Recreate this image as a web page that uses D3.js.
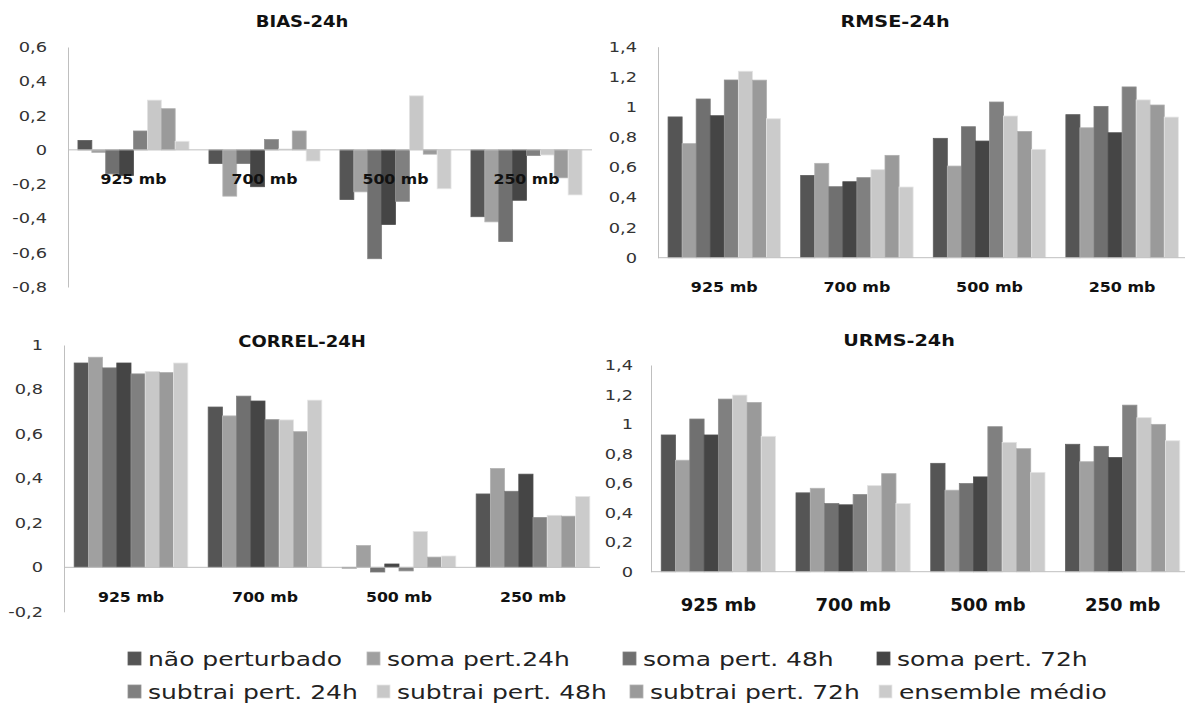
<!DOCTYPE html>
<html>
<head>
<meta charset="utf-8">
<script src="https://cdn.jsdelivr.net/npm/d3@7"></script>
<style>
  html, body { margin: 0; padding: 0; background: #fff; }
  svg { display: block; }
</style>
</head>
<body>
<svg id="chart" width="1185" height="711"></svg>
<script>
// ---------------- DATA ----------------
const categories = ["925 mb", "700 mb", "500 mb", "250 mb"];
const seriesNames = ["não perturbado", "soma pert.24h", "soma pert. 48h", "soma pert. 72h",
                     "subtrai pert. 24h", "subtrai pert. 48h", "subtrai pert. 72h", "ensemble médio"];
const seriesColors = ["#555555", "#a0a0a0", "#707070", "#454545", "#808080", "#c8c8c8", "#9a9a9a", "#cbcbcb"];

// values per category (rows) for each series (columns)
const biasValues = [
  [0.055, -0.015, -0.14, -0.15, 0.11, 0.29, 0.24, 0.05],
  [-0.08, -0.27, -0.08, -0.215, 0.06, 0.005, 0.11, -0.065],
  [-0.29, -0.245, -0.635, -0.435, -0.30, 0.315, -0.025, -0.227],
  [-0.39, -0.42, -0.535, -0.294, -0.033, -0.03, -0.163, -0.263]
];
const rmseValues = [
  [0.934, 0.757, 1.053, 0.942, 1.179, 1.237, 1.178, 0.922],
  [0.546, 0.626, 0.471, 0.504, 0.531, 0.584, 0.679, 0.469],
  [0.792, 0.608, 0.869, 0.774, 1.033, 0.94, 0.838, 0.719],
  [0.949, 0.862, 1.004, 0.829, 1.133, 1.047, 1.013, 0.933]
];
const correlValues = [
  [0.919, 0.945, 0.897, 0.919, 0.870, 0.881, 0.876, 0.919],
  [0.721, 0.681, 0.770, 0.748, 0.664, 0.663, 0.610, 0.752],
  [-0.003, 0.098, -0.021, 0.015, -0.016, 0.161, 0.046, 0.051],
  [0.330, 0.445, 0.342, 0.419, 0.224, 0.234, 0.230, 0.319]
];
const urmsValues = [
  [0.926, 0.755, 1.034, 0.926, 1.169, 1.196, 1.146, 0.917],
  [0.534, 0.565, 0.462, 0.453, 0.523, 0.583, 0.664, 0.462],
  [0.734, 0.552, 0.597, 0.642, 0.982, 0.876, 0.833, 0.673],
  [0.863, 0.745, 0.849, 0.773, 1.128, 1.043, 0.998, 0.887]
];

const biasTicks   = [-0.8, -0.6, -0.4, -0.2, 0, 0.2, 0.4, 0.6];
const rmseTicks   = [0, 0.2, 0.4, 0.6, 0.8, 1, 1.2, 1.4];
const correlTicks = [-0.2, 0, 0.2, 0.4, 0.6, 0.8, 1];
const urmsTicks   = [0, 0.2, 0.4, 0.6, 0.8, 1, 1.2, 1.4];

const titles = ["BIAS-24h", "RMSE-24h", "CORREL-24H", "URMS-24h"];

// ---------------- LAYOUT ----------------
const svg = d3.select("#chart");
const FONT = "'DejaVu Sans', Verdana, sans-serif";
const locale = d3.formatLocale({decimal: ",", thousands: ".", grouping: [3], currency: ["", ""], minus: "-"});
const fmt = locale.format(".1~f");

function stretchText(parent, x, y, str, o) {
  return parent.append("text")
    .attr("transform", `translate(${x},${y}) scale(${o.sx || 1},1)`)
    .attr("text-anchor", o.anchor || "start")
    .attr("font-family", FONT)
    .attr("font-size", o.size)
    .attr("font-weight", o.weight || "normal")
    .attr("fill", o.fill || "#000")
    .text(str);
}

const panels = [
  {values: biasValues,   ticks: biasTicks,   domain: [-0.8, 0.6], xr: [68, 592],    yr: [287, 47],
   title: titles[0], tx: 302, ty: 27, tsize: 15, catSize: 13.5, catSx: 1.17, catOff: 34, tickPad: 21},
  {values: rmseValues,   ticks: rmseTicks,   domain: [0, 1.4],    xr: [658, 1188.4], yr: [257.7, 46.7],
   title: titles[1], tx: 895, ty: 27, tsize: 16, catSize: 14, catSx: 1.14, catOff: 34, tickPad: 21},
  {values: correlValues, ticks: correlTicks, domain: [-0.2, 1],   xr: [64, 600],    yr: [611.8, 345],
   title: titles[2], tx: 302, ty: 347, tsize: 15, catSize: 13.5, catSx: 1.17, catOff: 35, tickPad: 21},
  {values: urmsValues,   ticks: urmsTicks,   domain: [0, 1.4],    xr: [651, 1190],  yr: [571.7, 365],
   title: titles[3], tx: 899, ty: 346, tsize: 16, catSize: 17, catSx: 1.06, catOff: 39, tickPad: 18}
];

const TICK_SX = 1.27;

panels.forEach(p => {
  const g = svg.append("g");
  const x0 = d3.scaleBand().domain(categories).range(p.xr).paddingInner(0.152).paddingOuter(0.076);
  const x1 = d3.scaleBand().domain(seriesNames).range([0, x0.bandwidth()]).padding(0);
  const y = d3.scaleLinear().domain(p.domain).range(p.yr);
  const color = d3.scaleOrdinal().domain(seriesNames).range(seriesColors);

  // y axis
  const yAxis = d3.axisLeft(y).tickValues(p.ticks).tickFormat(fmt).tickSize(0).tickSizeOuter(0).tickPadding(p.tickPad);
  const ag = g.append("g").attr("transform", `translate(${p.xr[0]},0)`).call(yAxis);
  ag.select(".domain").attr("stroke", "#bfbfbf").attr("stroke-width", 1);
  ag.selectAll(".tick text")
    .attr("font-family", FONT).attr("font-size", 14).attr("fill", "#333")
    .attr("x", -p.tickPad / TICK_SX)
    .attr("transform", `scale(${TICK_SX},1)`);

  // bars
  const groups = g.selectAll("g.cat").data(categories).join("g")
    .attr("class", "cat")
    .attr("transform", d => `translate(${x0(d)},0)`);
  groups.selectAll("rect")
    .data((d, i) => seriesNames.map((s, j) => ({s, v: p.values[i][j]})))
    .join("rect")
    .attr("x", d => x1(d.s))
    .attr("width", x1.bandwidth())
    .attr("y", d => y(Math.max(0, d.v)))
    .attr("height", d => Math.abs(y(d.v) - y(0)))
    .attr("fill", d => color(d.s))
    .attr("stroke", d => d3.color(color(d.s)).brighter(0.35))
    .attr("stroke-width", 0.8);

  // zero baseline
  g.append("line")
    .attr("x1", p.xr[0]).attr("x2", Math.min(p.xr[1], 1185))
    .attr("y1", y(0)).attr("y2", y(0))
    .attr("stroke", "#bfbfbf").attr("stroke-width", 1);

  // category labels
  categories.forEach(c => {
    stretchText(g, x0(c) + x0.bandwidth() / 2, y(0) + p.catOff, c,
      {size: p.catSize, weight: "bold", anchor: "middle", sx: p.catSx, fill: "#111"});
  });

  // title
  stretchText(g, p.tx, p.ty, p.title, {size: p.tsize, weight: "bold", anchor: "middle", sx: 1.2, fill: "#111"});
});

// ---------------- LEGEND ----------------
const legendRows = [
  {y: 666, xs: [128, 367, 623, 877], items: seriesNames.slice(0, 4), colors: seriesColors.slice(0, 4)},
  {y: 699, xs: [128, 377, 630, 879], items: seriesNames.slice(4), colors: seriesColors.slice(4)}
];
const lg = svg.append("g");
legendRows.forEach(r => {
  r.items.forEach((name, i) => {
    lg.append("rect")
      .attr("x", r.xs[i]).attr("y", r.y - 14)
      .attr("width", 13).attr("height", 13)
      .attr("fill", r.colors[i])
      .attr("stroke", d3.color(r.colors[i]).brighter(0.4)).attr("stroke-width", 0.8);
    stretchText(lg, r.xs[i] + 20, r.y, name, {size: 20, sx: 1.25, fill: "#222"});
  });
});
</script>
</body>
</html>
